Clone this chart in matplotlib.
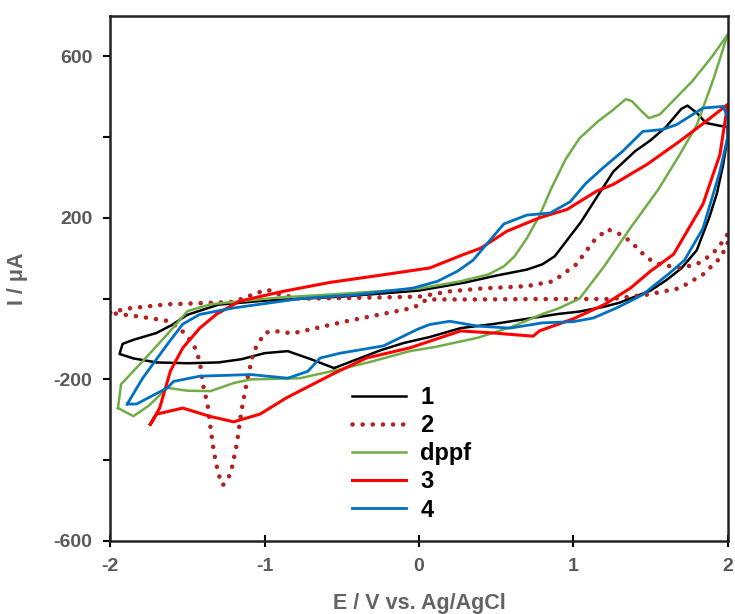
import matplotlib
matplotlib.use("Agg")
import matplotlib.pyplot as plt

plt.rcParams['font.family'] = ['Liberation Sans', 'DejaVu Sans']
plt.rcParams['axes.unicode_minus'] = False

# curve 1 (black)
e1 = [-0.55, -0.7, -0.85, -1.0, -1.15, -1.3, -1.5, -1.7, -1.85, -1.94, -1.92, -1.85, -1.7, -1.6,
      -1.5, -1.3, -1.0, -0.5, 0.0, 0.3, 0.5, 0.7, 0.8, 0.88, 0.95, 1.05, 1.15, 1.26, 1.4, 1.5, 1.6,
      1.7, 1.74, 1.8, 1.86, 1.95, 2.0,
      2.0, 1.97, 1.93, 1.88, 1.8, 1.7, 1.6, 1.5, 1.4, 1.3, 1.2, 1.04, 0.9, 0.7, 0.48, 0.27,
      0.07, -0.1, -0.25, -0.4, -0.55]
i1 = [-172, -150, -130, -135, -150, -158, -160, -158, -148, -137, -112, -102, -85, -65,
      -40, -15, -5, 5, 20, 40, 57, 72, 85, 105, 140, 190, 250, 315, 365, 392, 425,
      470, 478, 460, 435, 428, 425,
      400, 330, 260, 200, 120, 75, 45, 20, 5, -10, -20, -32, -38, -50, -63, -73,
      -95, -110, -128, -150, -172]

# curve 2 (dotted)
e2 = [-2.0, -1.9, -1.63, -1.4, -1.2, -1.05, -0.98, -0.9, -0.77, -0.4, 0.0, 0.2, 0.4, 0.7,
      0.87, 1.02, 1.13, 1.22, 1.3, 1.37, 1.48, 1.56, 1.69, 1.8, 1.9, 1.97, 2.0,
      2.0, 1.95, 1.84, 1.69, 1.48, 1.24, 0.8, 0.4, 0.05, 0.0, -0.04, -0.47, -0.82, -0.94,
      -1.0, -1.07, -1.11, -1.15, -1.18, -1.22, -1.27, -1.3, -1.33, -1.35, -1.37, -1.4, -1.42,
      -1.46, -1.55, -1.63, -1.8, -1.95, -2.0]
i2 = [-35, -25, -14, -11, -8, 14, 22, 10, 0, 2, 5, 18, 25, 31,
      43, 85, 142, 172, 160, 142, 100, 85, 76, 85, 110, 142, 160,
      135, 100, 60, 26, 10, -1, -1, -2, -2, -15, -23, -56, -86, -80,
      -85, -130, -196, -278, -360, -434, -462, -434, -377, -320, -261, -212, -155,
      -113, -73, -55, -45, -38, -35]

# dppf (green)
e3 = [-1.95, -1.93, -1.79, -1.63, -1.5, -1.35, -1.2, -0.9, -0.5, 0.0, 0.27, 0.45, 0.55, 0.62,
      0.7, 0.78, 0.86, 0.95, 1.04, 1.16, 1.25, 1.34, 1.38, 1.44, 1.49, 1.56, 1.66, 1.77, 1.9, 2.0,
      1.91, 1.8, 1.69, 1.55, 1.37, 1.2, 1.04, 0.9, 0.8, 0.6, 0.38, 0.1, -0.06, -0.3, -0.51,
      -0.77, -1.09, -1.2, -1.35, -1.5, -1.63, -1.75, -1.85, -1.95]
i3 = [-271, -212, -155, -88, -31, -14, -8, 3, 12, 25, 43, 60, 80, 105,
      150, 205, 275, 345, 397, 439, 465, 494, 489, 465, 447, 456, 495, 538, 600, 654,
      546, 430, 357, 270, 175, 80, 0, -25, -38, -70, -97, -120, -130, -155, -175,
      -197, -200, -209, -229, -228, -221, -265, -291, -271]

# curve 3 (red)
e4 = [-1.74, -1.68, -1.61, -1.53, -1.42, -1.31, -1.16, -0.88, -0.58, -0.25, 0.07, 0.28, 0.4,
      0.57, 0.78, 0.96, 1.15, 1.26, 1.48, 1.69, 1.86, 2.0,
      1.95, 1.84, 1.65, 1.5, 1.37, 1.2, 1.0, 0.78, 0.74, 0.48, 0.27, -0.06, -0.34, -0.56,
      -0.86, -1.03, -1.2, -1.35, -1.53, -1.7, -1.74]
i4 = [-311, -271, -179, -122, -73, -38, -6, 18, 40, 58, 76, 108, 125,
      167, 200, 221, 266, 283, 333, 390, 439, 481,
      357, 234, 110, 68, 26, -15, -50, -80, -93, -85, -80, -122, -147, -187,
      -246, -286, -305, -292, -271, -286, -311]

# curve 4 (blue)
e5 = [-1.89, -1.79, -1.63, -1.53, -1.42, -1.2, -0.77, -0.4, -0.04, 0.12, 0.25, 0.35, 0.45,
      0.55, 0.7, 0.85, 0.98, 1.08, 1.19, 1.32, 1.45, 1.58, 1.67, 1.84, 1.97, 2.0,
      2.0, 1.95, 1.84, 1.72, 1.62, 1.45, 1.37, 1.28, 1.13, 1.0, 0.8, 0.59, 0.38, 0.2, 0.07,
      -0.01, -0.23, -0.51, -0.64, -0.72, -0.85, -1.09, -1.42, -1.59, -1.63, -1.83, -1.89]
i5 = [-261, -197, -113, -63, -39, -23, 0, 10, 26, 43, 68, 95, 140,
      185, 207, 212, 240, 285, 323, 365, 414, 419, 431, 472, 476, 450,
      400, 315, 174, 95, 62, 10, -6, -23, -48, -57, -60, -73, -68, -56, -64,
      -76, -117, -135, -147, -180, -197, -188, -192, -205, -221, -261, -261]

fig = plt.figure(figsize=(7.35, 6.14), dpi=100)
ax = fig.add_axes([0.150, 0.119, 0.840, 0.855])

ax.plot(e1, i1, color='black', lw=1.8, label='1', solid_joinstyle='round')
ax.plot(e2, i2, color='#B22222', lw=3.3, linestyle=(0, (0.01, 2.2)),
        dash_capstyle='round', label='2')
ax.plot(e3, i3, color='#70AD47', lw=1.8, label='dppf', solid_joinstyle='round')
ax.plot(e4, i4, color='#FF0000', lw=2.2, label='3', solid_joinstyle='round')
ax.plot(e5, i5, color='#0070C0', lw=2.0, label='4', solid_joinstyle='round')

ax.set_xlim(-2, 2)
ax.set_ylim(-600, 700)
ax.set_xticks([-2, -1, 0, 1, 2])
yt = [-600, -400, -200, 0, 200, 400, 600]
ax.set_yticks(yt)
ax.set_yticklabels([str(v) if v in (-600, -200, 200, 600) else '' for v in yt])

for s in ax.spines.values():
    s.set_linewidth(1.8)
    s.set_color('#222222')

ax.tick_params(axis='x', direction='inout', length=8, width=1.5, labelsize=14,
               labelcolor='#595959', pad=8)
ax.tick_params(axis='y', direction='out', length=5, width=1.5, labelsize=14,
               labelcolor='#595959', pad=8)
for lab in ax.get_xticklabels() + ax.get_yticklabels():
    lab.set_fontweight('bold')

ax.set_xlabel('E / V vs. Ag/AgCl', fontsize=15.5, color='#636363', fontweight='bold',
              labelpad=13)
ax.set_ylabel('I / μA', fontsize=15.5, color='#636363', fontweight='bold', labelpad=18)

leg = ax.legend(loc='upper left', bbox_to_anchor=(0.372, 0.318), frameon=False,
                prop={'size': 17, 'weight': 'bold'}, handlelength=2.3,
                labelspacing=0.22, handletextpad=0.6, borderpad=0)

fig.savefig('out.png', dpi=100)
